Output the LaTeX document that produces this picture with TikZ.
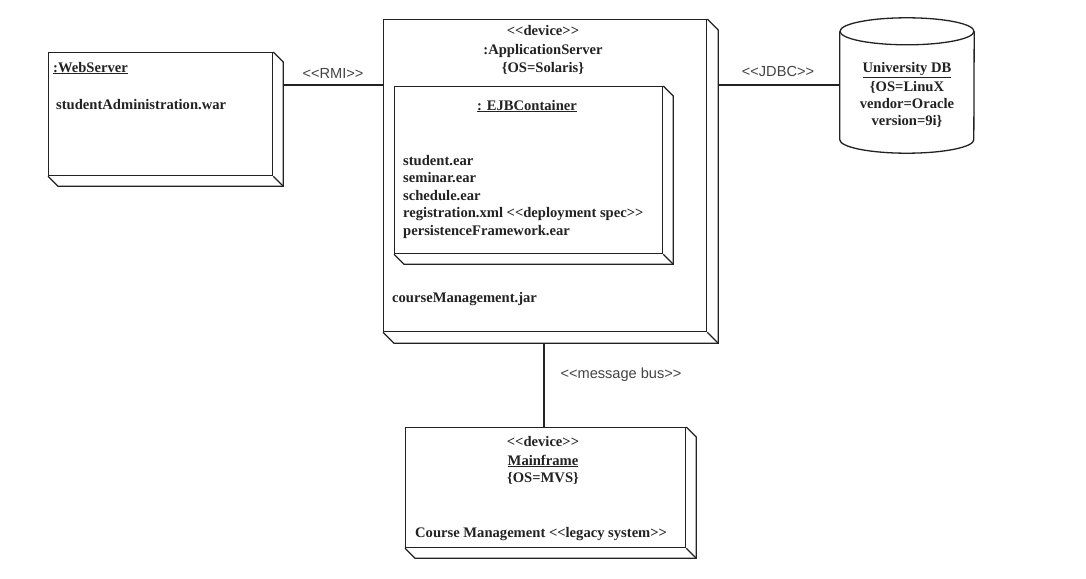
\documentclass[tikz,border=0pt]{standalone}
\usepackage{fontspec}
\setmainfont{Liberation Serif}
\newfontfamily\labelfont{Liberation Sans}
\usetikzlibrary{calc}
\definecolor{ink}{HTML}{222222}
\definecolor{lbl}{HTML}{444444}
\tikzset{
  devbox/.style={draw=ink, line width=1.3pt, fill=white, rectangle, inner sep=0pt, anchor=north west},
  side/.style={draw=ink, line width=1.3pt},
  txt/.style={font=\bfseries\fontsize{14.6}{17.6}\selectfont, text=ink, inner sep=0pt, anchor=base west},
  ctxt/.style={font=\bfseries\fontsize{14.6}{17.6}\selectfont, text=ink, inner sep=0pt, anchor=base},
  conn/.style={draw=ink, line width=1.3pt},
  clabel/.style={font=\labelfont\fontsize{14.6}{16}\selectfont, text=lbl, inner sep=0pt, anchor=base},
}
\newcommand{\extrude}[2]{%
  \draw[side] (#1.north east) -- ++(#2,#2) -- ([shift={(#2,#2)}]#1.south east) -- ([shift={(#2,#2)}]#1.south west) -- (#1.south west);
  \draw[side] (#1.south east) -- ([shift={(#2,#2)}]#1.south east);
}
\begin{document}
\begin{tikzpicture}[x=1pt,y=-1pt]
\useasboundingbox (0,0) rectangle (1086,578);
\fill[white] (0,0) rectangle (1086,578);

% WebServer
\node[devbox, minimum width=224pt, minimum height=123pt] (web) at (48,52) {};
\extrude{web}{10}
\node[txt] (webt) at (53,72) {\underline{:WebServer}};
\node[txt] (webw) at (56,109) {studentAdministration.war};

% Application server
\node[devbox, minimum width=323pt, minimum height=312pt] (app) at (383,19) {};
\extrude{app}{11}
\node[ctxt] (appt1) at (543,36) {<{}<device>{}>};
\node[ctxt] (appt2) at (543,55) {:ApplicationServer};
\node[ctxt] (appt3) at (543,73) {\{OS=Solaris\}};
\node[txt] (appj) at (392,302) {courseManagement.jar};

% EJB container
\node[devbox, minimum width=268pt, minimum height=167pt] (ejb) at (394,86) {};
\extrude{ejb}{10}
\node[ctxt] (ejbt) at (527,110) {\underline{: EJBContainer}};
\node[txt] (ejb1) at (403,165) {student.ear};
\node[txt] (ejb2) at (403,182.5) {seminar.ear};
\node[txt] (ejb3) at (403,200) {schedule.ear};
\node[txt] (ejb4) at (403,217.5) {registration.xml <{}<deployment spec>{}>};
\node[txt] (ejb5) at (403,235) {persistenceFramework.ear};

% University DB (cylinder)
\node[rectangle, inner sep=0pt, minimum width=134pt, minimum height=135pt] (db) at (907,85.5) {};
\draw[side, fill=white] (db.north west) ++(0,13.5) -- ($(db.south west)+(0,-13.5)$)
  arc[start angle=180, end angle=360, x radius=67pt, y radius=13.5pt]
  -- ($(db.north east)+(0,13.5)$);
\draw[side] ($(db.north)+(0,13.5)$) ellipse[x radius=67pt, y radius=13.5pt];
\node[ctxt] (dbt1) at (907,73) {\underline{University DB}};
\node[ctxt] (dbt2) at (907,91) {\{OS=LinuX};
\node[ctxt] (dbt3) at (907,108) {vendor=Oracle};
\node[ctxt] (dbt4) at (907,125) {version=9i\}};

% Mainframe
\node[devbox, minimum width=280pt, minimum height=120pt] (mf) at (405,427) {};
\extrude{mf}{10}
\node[ctxt] (mft1) at (543,446) {<{}<device>{}>};
\node[ctxt] (mft2) at (543,465) {\underline{Mainframe}};
\node[ctxt] (mft3) at (543,482) {\{OS=MVS\}};
\node[txt] (mfl) at (415,537) {Course Management <{}<legacy system>{}>};

% connectors
\coordinate (webR) at ($(web.north east)+(10,33)$);
\draw[conn] (webR) -- (webR -| app.west);
\node[clabel] (rmi) at (333,78) {<{}<RMI>{}>};
\coordinate (appR) at ($(app.north east)+(11,66)$);
\draw[conn] (appR) -- (appR -| db.west);
\node[clabel] (jdbc) at (778,77) {<{}<JDBC>{}>};
\coordinate (appB) at ($(app.south west)+(161,11)$);
\draw[conn] (appB) -- (appB |- mf.north);
\node[clabel] (mbus) at (621,378) {<{}<message bus>{}>};
\end{tikzpicture}
\end{document}
